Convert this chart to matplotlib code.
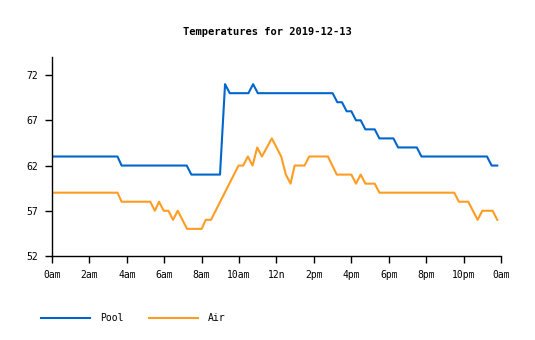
import matplotlib
matplotlib.use("Agg")
import matplotlib.pyplot as plt

# breakpoints (hours since midnight, deg F)
pool_hours = [0, 3.5, 3.72, 7.2, 7.45, 8.98, 9.25, 9.5, 10.5, 10.75, 11.0, 15.0,
              15.25, 15.5, 15.75, 16.0, 16.25, 16.5, 16.75, 17.25, 17.5, 18.25,
              18.5, 19.5, 19.75, 23.25, 23.5, 23.8]
pool_temps = [63, 63, 62, 62, 61, 61, 71, 70, 70, 71, 70, 70,
              69, 69, 68, 68, 67, 67, 66, 66, 65, 65,
              64, 64, 63, 63, 62, 62]

air_hours = [0, 3.5, 3.72, 5.25, 5.5, 5.72, 5.97, 6.22, 6.47, 6.72, 7.22, 8.0,
             8.22, 8.5, 9.97, 10.22, 10.47, 10.72, 10.97, 11.22, 11.75, 12.25,
             12.5, 12.75, 12.97, 13.5, 13.75, 14.75, 15.22, 16.0, 16.25, 16.5,
             16.75, 17.25, 17.5, 21.5, 21.75, 22.25, 22.75, 23.0, 23.55, 23.8]
air_temps = [59, 59, 58, 58, 57, 58, 57, 57, 56, 57, 55, 55,
             56, 56, 62, 62, 63, 62, 64, 63, 65, 63,
             61, 60, 62, 62, 63, 63, 61, 61, 60, 61,
             60, 60, 59, 59, 58, 58, 56, 57, 57, 56]

tick_hours = list(range(0, 25, 2))
tick_labels = ["0am", "2am", "4am", "6am", "8am", "10am", "12n", "2pm",
               "4pm", "6pm", "8pm", "10pm", "0am"]
y_ticks = [52, 57, 62, 67, 72]

plt.rcParams["font.family"] = ["DejaVu Sans Mono"]

fig = plt.figure(figsize=(5.35, 3.4), dpi=100)
ax = fig.add_axes([52 / 535, 84 / 340, 449 / 535, 199 / 340])

ax.plot(pool_hours, pool_temps, color="#0066cc", lw=1.5, label="Pool")
ax.plot(air_hours, air_temps, color="#ff9c22", lw=1.5, label="Air")

ax.set_xlim(0, 24)
ax.set_ylim(52, 74)
ax.set_xticks(tick_hours)
ax.set_xticklabels(tick_labels)
ax.set_yticks(y_ticks)
ax.tick_params(labelsize=7, length=5, width=1, direction="out", pad=5)
for side in ("top", "right"):
    ax.spines[side].set_visible(False)
for side in ("left", "bottom"):
    ax.spines[side].set_linewidth(1)

fig.text(0.5, 1 - 32 / 340, "Temperatures for 2019-12-13", ha="center", va="center",
         fontsize=7.5, fontweight="bold")

fig.legend(loc="center left", bbox_to_anchor=(32 / 535, 1 - 318 / 340), ncol=2,
           frameon=False, fontsize=7, handlelength=5.1, columnspacing=2.6,
           handletextpad=1.0)

fig.savefig("out.png", dpi=100)
